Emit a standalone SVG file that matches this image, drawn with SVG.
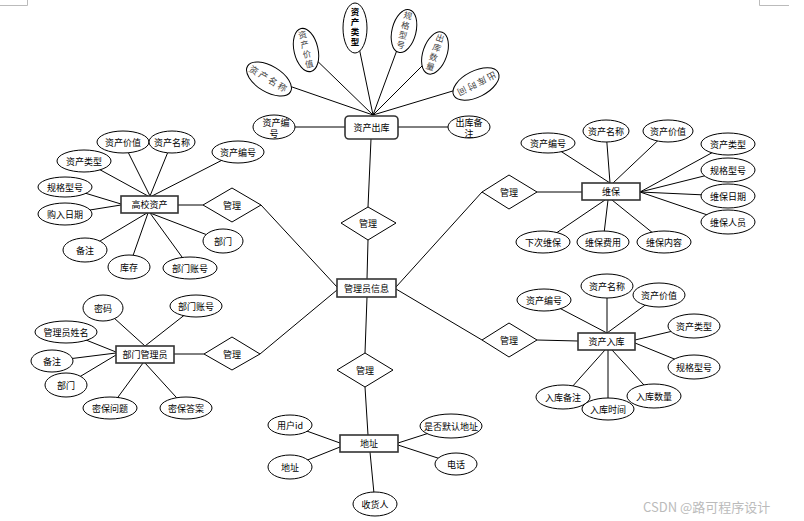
<svg xmlns="http://www.w3.org/2000/svg" width="804" height="521" viewBox="0 0 804 521">
<style>
.e{fill:#fff;stroke:#000;stroke-width:1}
.r{fill:#fff;stroke:#333;stroke-width:1.6}
.d{fill:#fff;stroke:#000;stroke-width:1}
.c line{stroke:#000;stroke-width:1}
.t{font-family:"Noto Sans CJK SC","Liberation Sans",sans-serif;font-size:9px;text-anchor:middle;dominant-baseline:central;fill:#000}
.v{font-size:8.5px;writing-mode:vertical-rl;text-orientation:upright;letter-spacing:1.5px}
.g{fill:#444}
.m line{stroke:#bbb;stroke-width:1}
</style>
<rect width="804" height="521" fill="#fff"/>
<g class="m"><line x1="0" y1="5.5" x2="27.5" y2="5.5"/><line x1="27.5" y1="0" x2="27.5" y2="5.5"/><line x1="759.5" y1="0" x2="759.5" y2="5.5"/><line x1="759.5" y1="5.5" x2="789" y2="5.5"/></g>
<g id="connectors" class="c">
<line x1="295" y1="127" x2="345" y2="127"/><line x1="398" y1="127" x2="448" y2="127"/>
<line x1="269" y1="79" x2="373" y2="115"/><line x1="306" y1="50" x2="373" y2="115"/><line x1="355" y1="28" x2="373" y2="115"/><line x1="404" y1="31" x2="373" y2="115"/><line x1="435" y1="53" x2="373" y2="115"/><line x1="476" y1="84" x2="373" y2="115"/>
<line x1="371" y1="139" x2="368" y2="207"/><line x1="368" y1="240" x2="367" y2="279"/><line x1="367" y1="297" x2="365" y2="353"/><line x1="365" y1="387" x2="368" y2="435"/>
<line x1="178" y1="205" x2="203" y2="205"/><line x1="261" y1="205" x2="337" y2="287"/><line x1="174" y1="354" x2="204" y2="354"/><line x1="260" y1="354" x2="337" y2="290"/>
<line x1="482" y1="192" x2="396" y2="287"/><line x1="537" y1="192" x2="582" y2="192"/><line x1="482" y1="340" x2="396" y2="289"/><line x1="537" y1="340" x2="578" y2="341"/>
<line x1="123" y1="142" x2="150" y2="196"/><line x1="172" y1="142" x2="150" y2="196"/><line x1="84" y1="161" x2="148" y2="196"/><line x1="238" y1="152" x2="152" y2="196"/><line x1="65" y1="187" x2="121" y2="204"/><line x1="65" y1="214" x2="121" y2="205"/><line x1="85" y1="250" x2="147" y2="213"/><line x1="129" y1="267" x2="148" y2="213"/><line x1="190" y1="268" x2="150" y2="213"/><line x1="223" y1="241" x2="150" y2="213"/>
<line x1="548" y1="143" x2="610" y2="183"/><line x1="606" y1="131" x2="610" y2="183"/><line x1="668" y1="131" x2="613" y2="183"/><line x1="728" y1="144" x2="640" y2="192"/><line x1="728" y1="170" x2="640" y2="192"/><line x1="728" y1="196" x2="640" y2="192"/><line x1="728" y1="222" x2="640" y2="192"/><line x1="543" y1="242" x2="605" y2="200"/><line x1="603" y1="242" x2="608" y2="200"/><line x1="664" y1="242" x2="612" y2="200"/>
<line x1="103" y1="308" x2="145" y2="346"/><line x1="196" y1="306" x2="145" y2="346"/><line x1="66" y1="332" x2="116" y2="352"/><line x1="52" y1="361" x2="116" y2="353"/><line x1="66" y1="385" x2="116" y2="355"/><line x1="110" y1="408" x2="143" y2="363"/><line x1="186" y1="408" x2="145" y2="363"/>
<line x1="544" y1="300" x2="607" y2="333"/><line x1="607" y1="286" x2="607" y2="333"/><line x1="659" y1="295" x2="607" y2="333"/><line x1="694" y1="326" x2="635" y2="340"/><line x1="694" y1="367" x2="635" y2="343"/><line x1="563" y1="397" x2="605" y2="350"/><line x1="608" y1="409" x2="608" y2="350"/><line x1="654" y1="396" x2="612" y2="350"/>
<line x1="290" y1="425" x2="340" y2="443"/><line x1="290" y1="467" x2="340" y2="447"/><line x1="451" y1="426" x2="398" y2="443"/><line x1="456" y1="464" x2="398" y2="445"/><line x1="375" y1="504" x2="370" y2="452"/>
</g>

<g id="out"><rect class="r" x="345" y="116" width="53" height="23" rx="4"/><text class="t" x="371.5" y="127.5">资产出库</text></g>
<g id="out-id"><ellipse class="e" cx="274" cy="127" rx="21" ry="12"/><text class="t"><tspan x="276" y="121.5">资产编</tspan><tspan x="274" y="133">号</tspan></text></g>
<g id="out-note"><ellipse class="e" cx="469" cy="127" rx="21" ry="11"/><text class="t"><tspan x="469" y="121.5">出库备</tspan><tspan x="469" y="133">注</tspan></text></g>
<g id="out-name" transform="translate(269,79) rotate(31)"><ellipse class="e" rx="25" ry="13"/><text class="t g" x="0" y="0" letter-spacing="2">资产名称</text></g>
<g id="out-value" transform="translate(306,50) rotate(-13)"><ellipse class="e" rx="12" ry="22"/><text class="t v g" x="0" y="0">资产价值</text></g>
<g id="out-type" transform="translate(355,28)"><ellipse class="e" rx="12" ry="25"/><text class="t v" x="0" y="0" font-weight="bold" letter-spacing="2">资产类型</text></g>
<g id="out-spec" transform="translate(404,31) rotate(14)"><ellipse class="e" rx="12" ry="22"/><text class="t v g" x="0" y="0">规格型号</text></g>
<g id="out-qty" transform="translate(435,53) rotate(19)"><ellipse class="e" rx="12" ry="22"/><text class="t v g" x="0" y="0">出库数量</text></g>
<g id="out-time" transform="translate(476,84) rotate(153)"><ellipse class="e" rx="25" ry="13"/><text class="t g" x="0" y="0" letter-spacing="2">出库时间</text></g>

<g id="asset"><rect class="r" x="121" y="196" width="57" height="17"/><text class="t" x="149.5" y="204.5">高校资产</text></g>
<g id="a1"><ellipse class="e" cx="123" cy="142" rx="26" ry="11"/><text class="t" x="123" y="142">资产价值</text></g>
<g id="a2"><ellipse class="e" cx="172" cy="142" rx="23" ry="11"/><text class="t" x="172" y="142">资产名称</text></g>
<g id="a3"><ellipse class="e" cx="84" cy="161" rx="27" ry="11"/><text class="t" x="84" y="161">资产类型</text></g>
<g id="a4"><ellipse class="e" cx="238" cy="152" rx="26" ry="11"/><text class="t" x="238" y="152">资产编号</text></g>
<g id="a5"><ellipse class="e" cx="65" cy="187" rx="27" ry="10"/><text class="t" x="65" y="187">规格型号</text></g>
<g id="a6"><ellipse class="e" cx="65" cy="214" rx="27" ry="11"/><text class="t" x="65" y="214">购入日期</text></g>
<g id="a7"><ellipse class="e" cx="85" cy="250" rx="22" ry="12"/><text class="t" x="85" y="250">备注</text></g>
<g id="a8"><ellipse class="e" cx="129" cy="267" rx="21" ry="12"/><text class="t" x="129" y="267">库存</text></g>
<g id="a9"><ellipse class="e" cx="190" cy="268" rx="27" ry="11"/><text class="t" x="190" y="268">部门账号</text></g>
<g id="a10"><ellipse class="e" cx="223" cy="241" rx="20" ry="12"/><text class="t" x="223" y="241">部门</text></g>
<g id="rel-asset"><polygon class="d" points="203,205 232,188 261,205 232,222"/><text class="t" x="232" y="205">管理</text></g>

<g id="maint"><rect class="r" x="582" y="183" width="58" height="17"/><text class="t" x="611" y="191.5">维保</text></g>
<g id="m1"><ellipse class="e" cx="548" cy="143" rx="27" ry="10"/><text class="t" x="548" y="143">资产编号</text></g>
<g id="m2"><ellipse class="e" cx="606" cy="131" rx="23" ry="11"/><text class="t" x="606" y="131">资产名称</text></g>
<g id="m3"><ellipse class="e" cx="668" cy="131" rx="25" ry="11"/><text class="t" x="668" y="131">资产价值</text></g>
<g id="m4"><ellipse class="e" cx="728" cy="144" rx="27" ry="11"/><text class="t" x="728" y="144">资产类型</text></g>
<g id="m5"><ellipse class="e" cx="728" cy="170" rx="27" ry="12"/><text class="t" x="728" y="170">规格型号</text></g>
<g id="m6"><ellipse class="e" cx="728" cy="196" rx="27" ry="12"/><text class="t" x="728" y="196">维保日期</text></g>
<g id="m7"><ellipse class="e" cx="728" cy="222" rx="27" ry="12"/><text class="t" x="728" y="222">维保人员</text></g>
<g id="m8"><ellipse class="e" cx="543" cy="242" rx="27" ry="11"/><text class="t" x="543" y="242">下次维保</text></g>
<g id="m9"><ellipse class="e" cx="603" cy="242" rx="26" ry="11"/><text class="t" x="603" y="242">维保费用</text></g>
<g id="m10"><ellipse class="e" cx="664" cy="242" rx="27" ry="11"/><text class="t" x="664" y="242">维保内容</text></g>
<g id="rel-maint"><polygon class="d" points="482,192 509,175 537,192 509,209"/><text class="t" x="509" y="192">管理</text></g>

<g id="dept"><rect class="r" x="116" y="346" width="58" height="17"/><text class="t" x="145" y="354.5">部门管理员</text></g>
<g id="d1"><ellipse class="e" cx="103" cy="308" rx="20" ry="13"/><text class="t" x="103" y="308">密码</text></g>
<g id="d2"><ellipse class="e" cx="196" cy="306" rx="26" ry="11"/><text class="t" x="196" y="306">部门账号</text></g>
<g id="d3"><ellipse class="e" cx="66" cy="332" rx="31" ry="11"/><text class="t" x="66" y="332">管理员姓名</text></g>
<g id="d4"><ellipse class="e" cx="52" cy="361" rx="21" ry="11"/><text class="t" x="52" y="361">备注</text></g>
<g id="d5"><ellipse class="e" cx="66" cy="385" rx="21" ry="12"/><text class="t" x="66" y="385">部门</text></g>
<g id="d6"><ellipse class="e" cx="110" cy="408" rx="27" ry="11"/><text class="t" x="110" y="408">密保问题</text></g>
<g id="d7"><ellipse class="e" cx="186" cy="408" rx="26" ry="11"/><text class="t" x="186" y="408">密保答案</text></g>
<g id="rel-dept"><polygon class="d" points="204,354 232,337 260,354 232,370"/><text class="t" x="232" y="354">管理</text></g>

<g id="in"><rect class="r" x="578" y="333" width="57" height="17"/><text class="t" x="606.5" y="341.5">资产入库</text></g>
<g id="i1"><ellipse class="e" cx="544" cy="300" rx="27" ry="11"/><text class="t" x="544" y="300">资产编号</text></g>
<g id="i2"><ellipse class="e" cx="607" cy="286" rx="26" ry="12"/><text class="t" x="607" y="286">资产名称</text></g>
<g id="i3"><ellipse class="e" cx="659" cy="295" rx="26" ry="12"/><text class="t" x="659" y="295">资产价值</text></g>
<g id="i4"><ellipse class="e" cx="694" cy="326" rx="26" ry="12"/><text class="t" x="694" y="326">资产类型</text></g>
<g id="i5"><ellipse class="e" cx="694" cy="367" rx="26" ry="12"/><text class="t" x="694" y="367">规格型号</text></g>
<g id="i6"><ellipse class="e" cx="563" cy="397" rx="27" ry="12"/><text class="t" x="563" y="397">入库备注</text></g>
<g id="i8"><ellipse class="e" cx="654" cy="396" rx="27" ry="12"/><text class="t" x="654" y="396">入库数量</text></g>
<g id="i7"><ellipse class="e" cx="608" cy="409" rx="26" ry="11"/><text class="t" x="608" y="409">入库时间</text></g>
<g id="rel-in"><polygon class="d" points="482,340 509,323 537,340 509,357"/><text class="t" x="509" y="340">管理</text></g>

<g id="admin"><rect class="r" x="337" y="279" width="59" height="18"/><text class="t" x="366.5" y="288">管理员信息</text></g>
<g id="rel-out"><polygon class="d" points="341,223 368,207 396,223 368,240"/><text class="t" x="368" y="223">管理</text></g>
<g id="rel-addr"><polygon class="d" points="337,370 365,353 393,370 365,387"/><text class="t" x="365" y="370">管理</text></g>

<g id="addr"><rect class="r" x="340" y="435" width="58" height="17"/><text class="t" x="369" y="443.5">地址</text></g>
<g id="ad1"><ellipse class="e" cx="290" cy="425" rx="22" ry="10"/><text class="t" x="290" y="425">用户id</text></g>
<g id="ad2"><ellipse class="e" cx="290" cy="467" rx="22" ry="12"/><text class="t" x="290" y="467">地址</text></g>
<g id="ad3"><ellipse class="e" cx="451" cy="426" rx="31" ry="12"/><text class="t" x="451" y="426">是否默认地址</text></g>
<g id="ad4"><ellipse class="e" cx="456" cy="464" rx="21" ry="11"/><text class="t" x="456" y="464">电话</text></g>
<g id="ad5"><ellipse class="e" cx="375" cy="504" rx="22" ry="12"/><text class="t" x="375" y="504">收货人</text></g>

<text x="643" y="512" font-family="Noto Sans CJK SC,Liberation Sans,sans-serif" font-size="13" fill="#bbb">CSDN @路可程序设计</text>
</svg>
